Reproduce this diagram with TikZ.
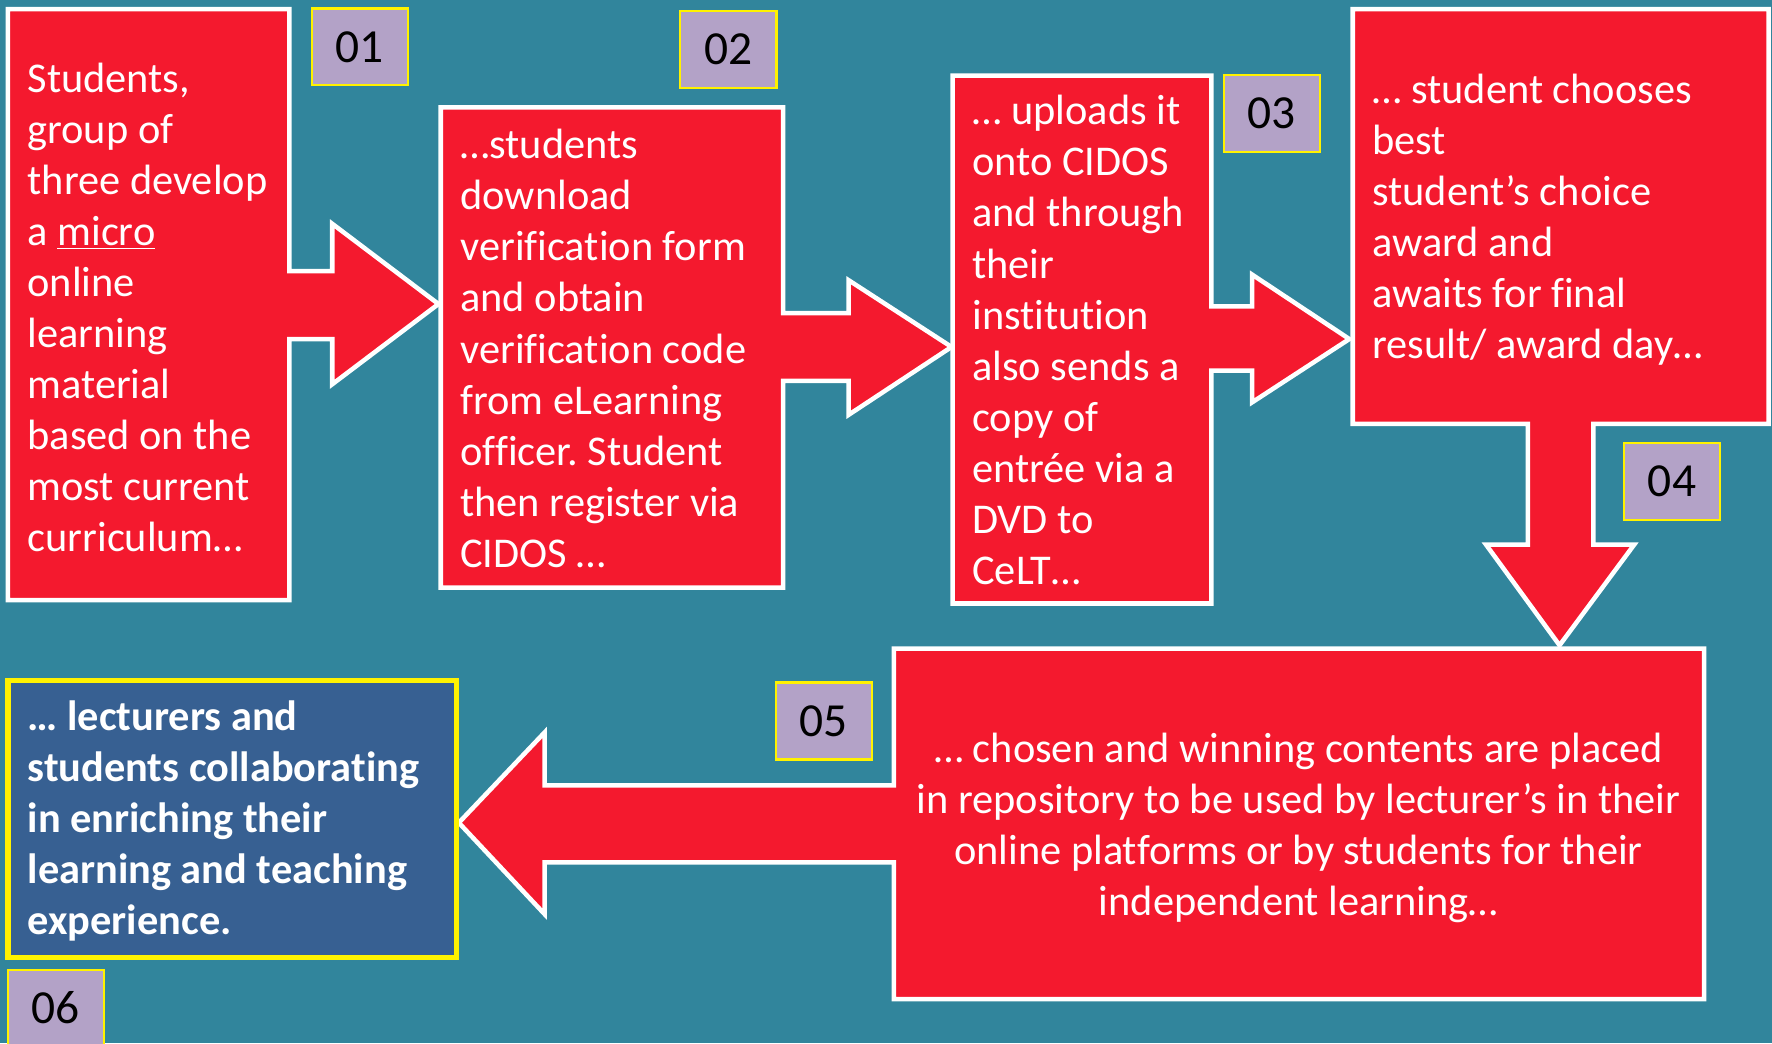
\documentclass[tikz,border=0pt]{standalone}
\usepackage{fontspec}
\setmainfont{Carlito}[Ligatures=NoCommon]
\frenchspacing
\definecolor{bg}{RGB}{49,133,156}
\definecolor{cred}{RGB}{244,25,46}
\definecolor{cblue}{RGB}{55,96,146}
\definecolor{lav}{RGB}{179,162,199}
\begin{document}
\begin{tikzpicture}[x=0.5pt,y=-0.5pt,
  callout/.style={fill=cred,draw=white,line width=2pt,line join=miter},
  body/.style={anchor=north west,inner sep=0pt,align=left,text=white,
    font=\fontsize{18.75}{22.6}\selectfont\frenchspacing},
  num/.style={fill=lav,draw=yellow,line width=1pt,text=black,inner sep=0pt,
    minimum width=42.5pt,minimum height=34pt,font=\fontsize{21}{24}\selectfont}]
\clip (0,0) rectangle (1568,923);
\fill[bg] (0,0) rectangle (1568,923);
\useasboundingbox (0,0) rectangle (1568,923);
% box 1 with right arrow
\draw[callout] (7,8) -- (256,8) -- (256,240) -- (294,240) -- (294,198) -- (388,269)
  -- (294,340) -- (294,300) -- (256,300) -- (256,531) -- (7,531) -- cycle;
% box 2
\draw[callout] (390,95) -- (693,95) -- (693,277) -- (751,277) -- (751,248) -- (842,307)
  -- (751,367) -- (751,337) -- (693,337) -- (693,520) -- (390,520) -- cycle;
% box 3
\draw[callout] (843,67) -- (1072,67) -- (1072,271) -- (1108,271) -- (1108,243) -- (1194,300)
  -- (1108,356) -- (1108,328) -- (1072,328) -- (1072,534) -- (843,534) -- cycle;
% box 4 with down arrow
\draw[callout] (1197,8) -- (1565,8) -- (1565,375) -- (1410,375) -- (1410,482) -- (1446,482)
  -- (1380,571) -- (1315,482) -- (1352,482) -- (1352,375) -- (1197,375) -- cycle;
% box 5 with left arrow
\draw[callout] (791,574) -- (1508,574) -- (1508,884) -- (791,884) -- (791,763) -- (482,763)
  -- (482,809) -- (406,728) -- (482,648) -- (482,695) -- (791,695) -- cycle;
% box 6
\draw[fill=cblue,draw=yellow,line width=2.4pt] (7,602) rectangle (404,847);
% texts
\node[body] (t1) at (24,51) {\rule{0pt}{15pt}Students,\\group of\\three develop\\a \underline{micro}\\online\\learning\\material\\based on the\\most current\\curriculum…};
\node[body] (t2) at (407,110) {\rule{0pt}{15pt}…students\\download\\verification form\\and obtain\\verification code\\from eLearning\\officer. Student\\then register via\\CIDOS …};
\node[body] (t3) at (860,80) {\rule{0pt}{15pt}… uploads it\\onto CIDOS\\and through\\their\\institution\\also sends a\\copy of\\entrée via a\\DVD to\\CeLT…};
\node[body] (t4) at (1214,61) {\rule{0pt}{15pt}… student chooses\\best\\student’s choice\\award and\\awaits for final\\result/ award day…};
\node[body,anchor=north,align=center] (t5) at (1149,644) {\rule{0pt}{15pt}… chosen and winning contents are placed\\in repository to be used by lecturer’s in their\\online platforms or by students for their\\independent learning…};
\node[body,font=\fontsize{18.75}{22.6}\selectfont\bfseries\frenchspacing] (t6) at (24,616) {\rule{0pt}{15pt}… lecturers and\\students collaborating\\in enriching their\\learning and teaching\\experience.};
% numbers
\node[num] (n1) at (318.5,41.5) {01};
\node[num] (n2) at (644.5,44) {02};
\node[num] (n3) at (1125.5,100.5) {03};
\node[num] (n4) at (1479.5,426) {04};
\node[num] (n5) at (729,638) {05};
\node[num] (n6) at (49.5,892) {06};
\end{tikzpicture}
\end{document}
